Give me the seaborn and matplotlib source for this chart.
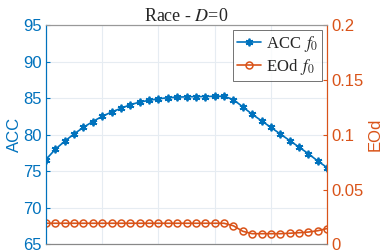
import numpy as np
import pandas as pd
import matplotlib
matplotlib.use("Agg")
import matplotlib.pyplot as plt
import seaborn as sns

# values (31 steps)
step = np.arange(31)
acc = [76.6, 78.0, 79.1, 80.1, 81.0, 81.8, 82.5, 83.1, 83.6, 84.1,
       84.45, 84.7, 84.9, 85.05, 85.13, 85.18, 85.2, 85.22, 85.25, 85.25,
       84.8, 83.8, 82.8, 81.9, 81.0, 80.1, 79.2, 78.3, 77.4, 76.4, 75.5]
eod = [0.0193] * 20 + [0.017, 0.012, 0.0098, 0.0098, 0.0098, 0.0098,
                       0.0102, 0.0107, 0.0113, 0.0125, 0.0145]

blue = "#0072BD"
orange = "#D95319"

df = pd.DataFrame({"step": step, "ACC": acc, "EOd": eod})

sns.set_style("white")
plt.rcParams["font.family"] = ["Liberation Sans", "DejaVu Sans"]
plt.rcParams["mathtext.fontset"] = "stix"

fig = plt.figure(figsize=(3.89, 2.52), dpi=100)
ax = fig.add_axes([0.118, 0.030, 0.723, 0.871])
ax2 = ax.twinx()

sns.lineplot(data=df, x="step", y="ACC", ax=ax, color=blue, marker=(6, 2, 0),
             markersize=5.5, markeredgewidth=1.3, markeredgecolor=blue,
             linewidth=1.2, label="ACC $\\,f_0$", legend=False)
sns.lineplot(data=df, x="step", y="EOd", ax=ax2, color=orange, marker="o",
             markersize=5, markerfacecolor="none", markeredgewidth=1.1,
             markeredgecolor=orange, linewidth=1.2, label="EOd $\\,f_0$", legend=False)

ax.set_xlim(0, 30)
ax.set_xticks(np.arange(0, 31, 6))
ax.set_xticklabels([])
ax.set_ylim(65, 95)
ax.set_yticks(np.arange(65, 96, 5))
ax2.set_ylim(0, 0.2)
ax2.set_yticks([0, 0.05, 0.1, 0.15, 0.2])
ax2.set_yticklabels(["0", "0.05", "0.1", "0.15", "0.2"])

ax.grid(True, color="#e6ecf2", linewidth=0.8)
ax.set_xlabel("")
ax.set_ylabel("ACC", color=blue, fontsize=12, labelpad=1)
ax2.set_ylabel("EOd", color=orange, fontsize=12, labelpad=3)

ax.tick_params(axis="y", colors=blue, labelsize=12, direction="in", length=3, pad=3)
ax.tick_params(axis="x", colors="#888888", direction="in", length=3)
ax2.tick_params(axis="y", colors=orange, labelsize=12, direction="in", length=3, pad=3)

for a in (ax, ax2):
    a.spines["top"].set_color("#999999")
    a.spines["bottom"].set_color("#888888")
    a.spines["left"].set_color(blue)
    a.spines["right"].set_color(orange)
    for s in a.spines.values():
        s.set_linewidth(0.8)

ax.set_title("Race - $D$=0", fontsize=13, family="Liberation Serif", pad=3)

h1, l1 = ax.get_legend_handles_labels()
h2, l2 = ax2.get_legend_handles_labels()
leg = ax2.legend(h1 + h2, l1 + l2, loc="upper right",
                 prop={"family": "Liberation Serif", "size": 12},
                 frameon=True, fancybox=False, edgecolor="#333333",
                 handlelength=1.4, handletextpad=0.3, borderpad=0.25,
                 labelspacing=0.15, borderaxespad=0.3)
leg.get_frame().set_linewidth(0.6)

fig.savefig("out.png", dpi=100)
